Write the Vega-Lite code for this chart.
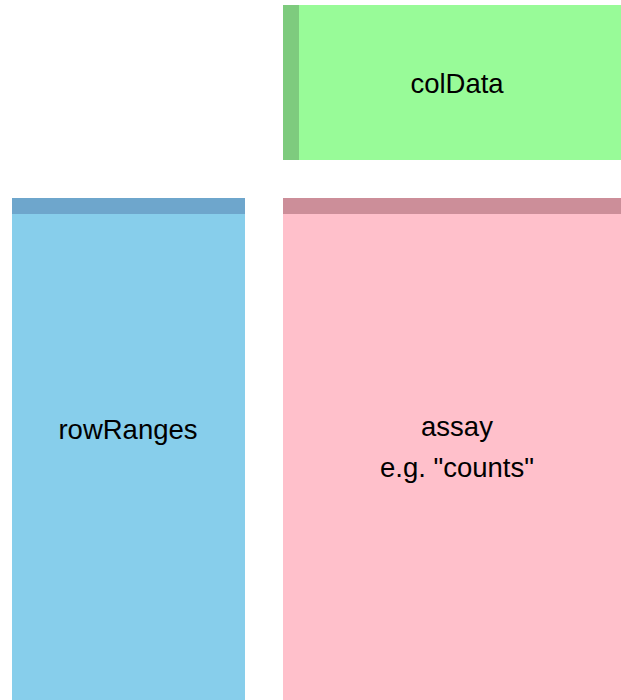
{
  "$schema": "https://vega.github.io/schema/vega-lite/v6.json",
  "width": 621,
  "height": 700,
  "autosize": {"type": "fit", "contains": "padding"},
  "padding": 0,
  "background": "white",
  "config": {"view": {"stroke": null}},
  "datasets": {
    "boxes": [
      {"name": "colData", "x": 283, "x2": 621, "y": 5, "y2": 160, "color": "#98FB98"},
      {"name": "colData strip", "x": 283, "x2": 299, "y": 5, "y2": 160, "color": "#7ECB7E"},
      {"name": "rowRanges", "x": 12, "x2": 245, "y": 198, "y2": 700, "color": "#87CEEB"},
      {"name": "rowRanges strip", "x": 12, "x2": 245, "y": 198, "y2": 214, "color": "#6EA6CC"},
      {"name": "assay", "x": 283, "x2": 621, "y": 198, "y2": 700, "color": "#FFC0CB"},
      {"name": "assay strip", "x": 283, "x2": 621, "y": 198, "y2": 214, "color": "#CC8E99"}
    ],
    "labels": [
      {"label": "colData", "x": 457, "y": 85},
      {"label": "rowRanges", "x": 128, "y": 431},
      {"label": "assay", "x": 457, "y": 428},
      {"label": "e.g. \"counts\"", "x": 457, "y": 469}
    ]
  },
  "layer": [
    {
      "data": {"name": "boxes"},
      "mark": {"type": "rect"},
      "encoding": {
        "x": {"field": "x", "type": "quantitative", "scale": {"domain": [0, 621], "nice": false, "zero": false}, "axis": null},
        "x2": {"field": "x2"},
        "y": {"field": "y", "type": "quantitative", "scale": {"domain": [0, 700], "nice": false, "zero": false, "reverse": true}, "axis": null},
        "y2": {"field": "y2"},
        "color": {"field": "color", "type": "nominal", "scale": null, "legend": null}
      }
    },
    {
      "data": {"name": "labels"},
      "mark": {"type": "text", "font": "Liberation Sans", "fontSize": 27.5, "baseline": "middle", "align": "center", "color": "black"},
      "encoding": {
        "x": {"field": "x", "type": "quantitative"},
        "y": {"field": "y", "type": "quantitative"},
        "text": {"field": "label"}
      }
    }
  ]
}
